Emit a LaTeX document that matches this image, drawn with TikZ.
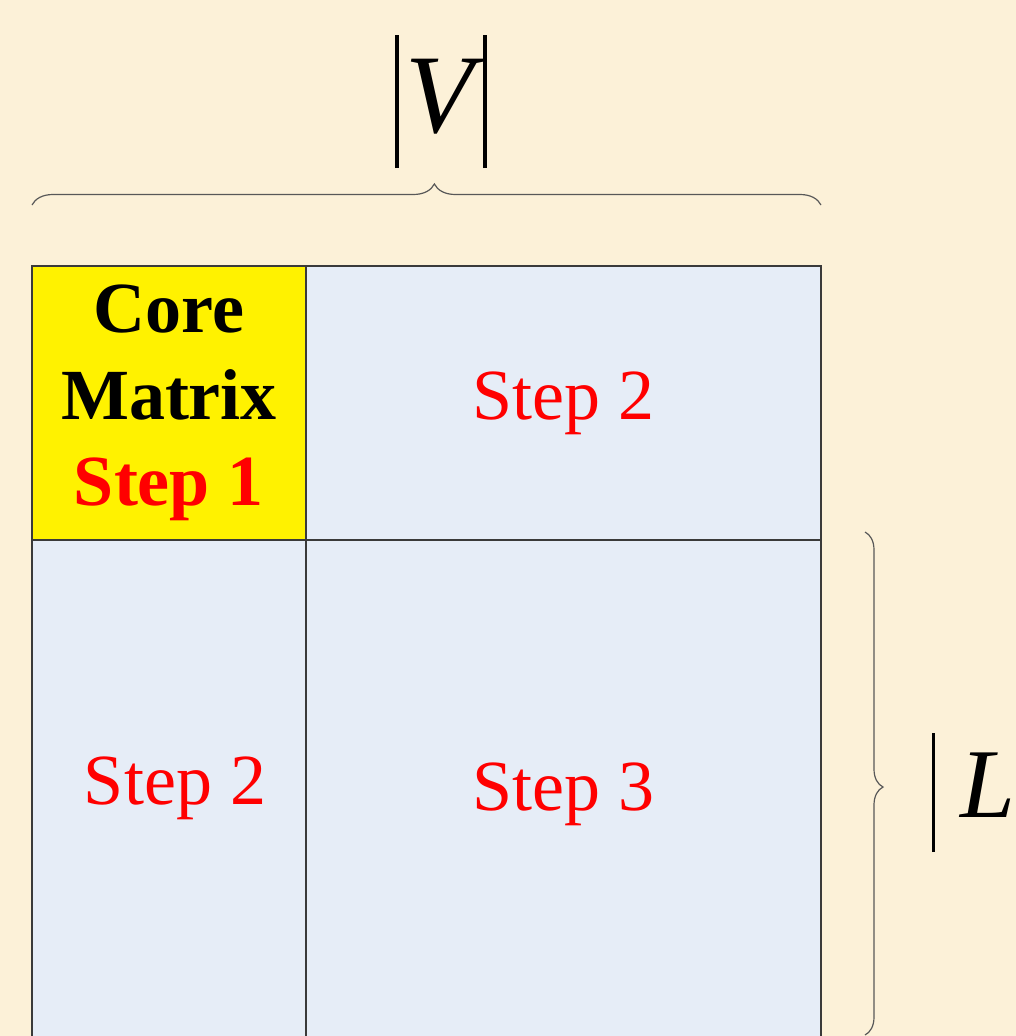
\documentclass[tikz,border=0pt]{standalone}
\usepackage{fontspec}
\setmainfont{Liberation Serif}
\usetikzlibrary{decorations.pathreplacing}
\definecolor{parchment}{HTML}{FCF1D8}
\definecolor{cellblue}{HTML}{E6EDF7}
\definecolor{gridline}{HTML}{3A3A3A}
\definecolor{stepred}{HTML}{FF0000}
\tikzset{
  cell/.style={draw=gridline, line width=1.1pt, fill=cellblue, inner sep=0pt, outer sep=0pt, anchor=north west},
  steptext/.style={text=stepred, font=\fontsize{54}{65}\selectfont},
  sizebrace/.style={decorate, decoration={brace, amplitude=#1}, draw=gridline!85, line width=0.9pt},
}
\begin{document}
\begin{tikzpicture}[x=0.75pt, y=-0.75pt]
  \useasboundingbox (0,0) rectangle (1016,1036);
  \fill[parchment] (0,0) rectangle (1016,1036);
  \clip (0,0) rectangle (1016,1036);
  % Core matrix and the three step blocks
  \node[cell, fill=yellow, minimum width=205.5pt, minimum height=205.5pt, align=center,
        font=\bfseries\fontsize{54}{65}\selectfont] (core) at (32,266)
        {Core\\Matrix\\\textcolor{stepred}{Step 1}};
  \node[cell, steptext, minimum width=386.25pt, minimum height=205.5pt] (rowtop) at (core.north east) {Step 2};
  \node[cell, steptext, minimum width=205.5pt, minimum height=387pt, text depth=26.7pt] (colleft) at (core.south west) {\hspace*{9pt}Step 2};
  \node[cell, steptext, minimum width=386.25pt, minimum height=396pt, text depth=26.7pt] (rest) at (core.south east) {Step 3};
  % Size of V (over the columns)
  \coordinate (vleft) at ([yshift=45.75pt]core.north west);
  \coordinate (vright) at ([yshift=45.75pt]rowtop.north east);
  \draw[sizebrace=15.75pt, decoration={aspect=0.51}] (vleft) -- (vright);
  \node[anchor=base west, inner sep=0pt, font=\itshape\fontsize{84}{84}\selectfont] (vsize) at (395,132)
    {\rule[-27pt]{2.6pt}{99.75pt}\hspace{5pt}V\hspace{7pt}\rule[-27pt]{2.6pt}{99.75pt}};
  % Size of L (down the rows)
  \coordinate (ltop) at ([xshift=33pt, yshift=6pt]rowtop.south east);
  \coordinate (lbottom) at (865,1035);
  \draw[sizebrace=13.5pt, decoration={aspect=0.507}] (ltop) -- (lbottom);
  \node[anchor=base west, inner sep=0pt, font=\itshape\fontsize{74}{74}\selectfont] (lsize) at (931.5,817)
    {\rule[-26.25pt]{2.6pt}{89.25pt}\hspace{19pt}L\hspace{9pt}\rule[-26.25pt]{2.6pt}{89.25pt}};
\end{tikzpicture}
\end{document}
